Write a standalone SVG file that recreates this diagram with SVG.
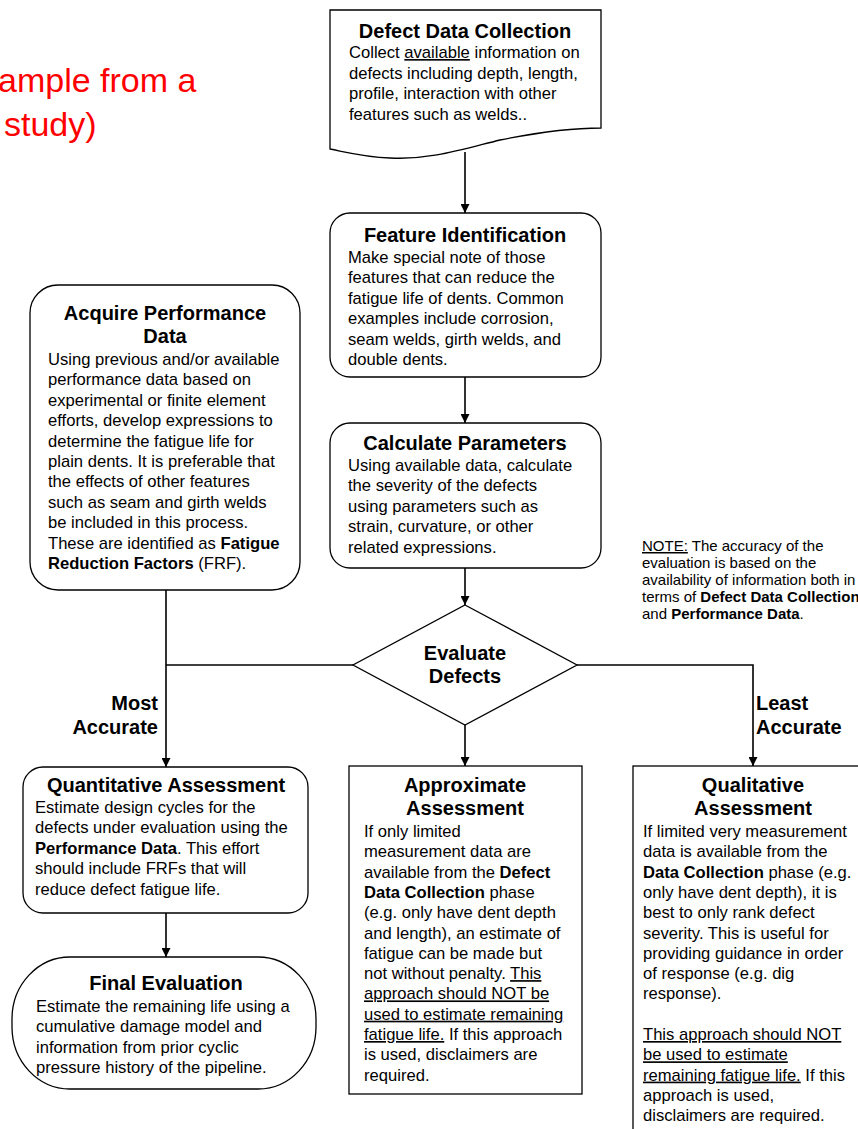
<svg xmlns="http://www.w3.org/2000/svg" width="858" height="1129" viewBox="0 0 858 1129">
<style>
text{font-family:"Liberation Sans",Arial,sans-serif;fill:#000}
.t{font-size:20px;font-weight:bold;text-anchor:middle}
.b{font-size:16.6px}
.n{font-size:15px}
.lbl{font-size:20px;font-weight:bold}
.bd{font-weight:bold}
.u{text-decoration:underline}
.shape{fill:#fff;stroke:#000;stroke-width:1.3}
.conn{fill:none;stroke:#000;stroke-width:1.6}
.red{font-size:34px;fill:#ff0000}
</style>
<defs>
<marker id="ah" viewBox="0 0 10 10" refX="10" refY="5" markerWidth="10" markerHeight="9" markerUnits="userSpaceOnUse" orient="auto"><path d="M0,0 L10,5 L0,10 z" fill="#000"/></marker>
</defs>
<rect width="858" height="1129" fill="#fff"/>
<g id="title-fragment">
<text class="red" x="-2" y="92">ample from a</text>
<text class="red" x="4" y="136">study)</text>
</g>
<g id="connectors">
<path class="conn" d="M465,152 V213" marker-end="url(#ah)"/>
<path class="conn" d="M465,377 V423" marker-end="url(#ah)"/>
<path class="conn" d="M465,568 V605" marker-end="url(#ah)"/>
<path class="conn" d="M465,725 V766" marker-end="url(#ah)"/>
<path class="conn" d="M166,590 V767" marker-end="url(#ah)"/>
<path class="conn" d="M353,665 H166"/>
<path class="conn" d="M577,665 H753 V766" marker-end="url(#ah)"/>
<path class="conn" d="M166,913 V957" marker-end="url(#ah)"/>
</g>
<g id="defect-data-collection">
<path class="shape" d="M330,10 H601 V128 C570,128 540,132 500,140 C460,150 430,160 390,158 C365,157 350,153 330,149 Z"/>
<text class="t" x="465" y="38">Defect Data Collection</text>
<text class="b" x="349" y="58">Collect <tspan class="u">available</tspan> information on</text>
<text class="b" x="349" y="78.5">defects including depth, length,</text>
<text class="b" x="349" y="99">profile, interaction with other</text>
<text class="b" x="349" y="119.5">features such as welds..</text>
</g>
<g id="feature-identification">
<rect class="shape" x="330" y="213" width="271" height="164" rx="20"/>
<text class="t" x="465" y="242">Feature Identification</text>
<text class="b" x="348" y="263">Make special note of those</text>
<text class="b" x="348" y="283.4">features that can reduce the</text>
<text class="b" x="348" y="303.8">fatigue life of dents. Common</text>
<text class="b" x="348" y="324.2">examples include corrosion,</text>
<text class="b" x="348" y="344.6">seam welds, girth welds, and</text>
<text class="b" x="348" y="365">double dents.</text>
</g>
<g id="calculate-parameters">
<rect class="shape" x="330" y="423" width="271" height="145" rx="20"/>
<text class="t" x="465" y="450">Calculate Parameters</text>
<text class="b" x="348" y="471">Using available data, calculate</text>
<text class="b" x="348" y="491.4">the severity of the defects</text>
<text class="b" x="348" y="511.8">using parameters such as</text>
<text class="b" x="348" y="532.2">strain, curvature, or other</text>
<text class="b" x="348" y="552.6">related expressions.</text>
</g>
<g id="acquire-performance-data">
<rect class="shape" x="30" y="285" width="270" height="305" rx="28"/>
<text class="t" x="165" y="320">Acquire Performance</text>
<text class="t" x="165" y="343">Data</text>
<text class="b" x="48" y="365">Using previous and/or available</text>
<text class="b" x="48" y="385.4">performance data based on</text>
<text class="b" x="48" y="405.8">experimental or finite element</text>
<text class="b" x="48" y="426.2">efforts, develop expressions to</text>
<text class="b" x="48" y="446.6">determine the fatigue life for</text>
<text class="b" x="48" y="467">plain dents. It is preferable that</text>
<text class="b" x="48" y="487.4">the effects of other features</text>
<text class="b" x="48" y="507.8">such as seam and girth welds</text>
<text class="b" x="48" y="528.2">be included in this process.</text>
<text class="b" x="48" y="548.6">These are identified as <tspan class="bd">Fatigue</tspan></text>
<text class="b" x="48" y="569"><tspan class="bd">Reduction Factors</tspan> (FRF).</text>
</g>
<g id="note">
<text class="n" x="642" y="551"><tspan class="u">NOTE:</tspan> The accuracy of the</text>
<text class="n" x="642" y="568">evaluation is based on the</text>
<text class="n" x="642" y="585">availability of information both in</text>
<text class="n" x="642" y="602">terms of <tspan class="bd">Defect Data Collection</tspan></text>
<text class="n" x="642" y="619">and <tspan class="bd">Performance Data</tspan>.</text>
</g>
<g id="evaluate-defects">
<polygon class="shape" points="465,605 577,665 465,725 353,665"/>
<text class="t" x="465" y="660">Evaluate</text>
<text class="t" x="465" y="683">Defects</text>
</g>
<g id="labels">
<text class="lbl" x="158" y="710" text-anchor="end">Most</text>
<text class="lbl" x="158" y="734" text-anchor="end">Accurate</text>
<text class="lbl" x="756" y="710">Least</text>
<text class="lbl" x="756" y="734">Accurate</text>
</g>
<g id="quantitative-assessment">
<rect class="shape" x="23" y="767" width="285" height="146" rx="20"/>
<text class="t" x="166" y="792">Quantitative Assessment</text>
<text class="b" x="35" y="813">Estimate design cycles for the</text>
<text class="b" x="35" y="833.4">defects under evaluation using the</text>
<text class="b" x="35" y="853.8"><tspan class="bd">Performance Data</tspan>. This effort</text>
<text class="b" x="35" y="874.2">should include FRFs that will</text>
<text class="b" x="35" y="894.6">reduce defect fatigue life.</text>
</g>
<g id="final-evaluation">
<rect class="shape" x="12" y="957" width="304" height="132" rx="58" ry="62"/>
<text class="t" x="166" y="990">Final Evaluation</text>
<text class="b" x="36" y="1012">Estimate the remaining life using a</text>
<text class="b" x="36" y="1032.4">cumulative damage model and</text>
<text class="b" x="36" y="1052.8">information from prior cyclic</text>
<text class="b" x="36" y="1073.2">pressure history of the pipeline.</text>
</g>
<g id="approximate-assessment">
<rect class="shape" x="349" y="766" width="233" height="328"/>
<text class="t" x="465" y="792">Approximate</text>
<text class="t" x="465" y="815">Assessment</text>
<text class="b" x="364" y="837">If only limited</text>
<text class="b" x="364" y="857.3">measurement data are</text>
<text class="b" x="364" y="877.6">available from the <tspan class="bd">Defect</tspan></text>
<text class="b" x="364" y="897.9"><tspan class="bd">Data Collection</tspan> phase</text>
<text class="b" x="364" y="918.2">(e.g. only have dent depth</text>
<text class="b" x="364" y="938.5">and length), an estimate of</text>
<text class="b" x="364" y="958.8">fatigue can be made but</text>
<text class="b" x="364" y="979.1">not without penalty. <tspan class="u">This</tspan></text>
<text class="b" x="364" y="999.4"><tspan class="u">approach should NOT be</tspan></text>
<text class="b" x="364" y="1019.7"><tspan class="u">used to estimate remaining</tspan></text>
<text class="b" x="364" y="1040"><tspan class="u">fatigue life.</tspan> If this approach</text>
<text class="b" x="364" y="1060.3">is used, disclaimers are</text>
<text class="b" x="364" y="1080.6">required.</text>
</g>
<g id="qualitative-assessment">
<rect class="shape" x="633" y="766" width="240" height="380"/>
<text class="t" x="753" y="792">Qualitative</text>
<text class="t" x="753" y="815">Assessment</text>
<text class="b" x="643" y="837">If limited very measurement</text>
<text class="b" x="643" y="857.3">data is available from the</text>
<text class="b" x="643" y="877.6"><tspan class="bd">Data Collection</tspan> phase (e.g.</text>
<text class="b" x="643" y="897.9">only have dent depth), it is</text>
<text class="b" x="643" y="918.2">best to only rank defect</text>
<text class="b" x="643" y="938.5">severity. This is useful for</text>
<text class="b" x="643" y="958.8">providing guidance in order</text>
<text class="b" x="643" y="979.1">of response (e.g. dig</text>
<text class="b" x="643" y="999.4">response).</text>
<text class="b" x="643" y="1040"><tspan class="u">This approach should NOT</tspan></text>
<text class="b" x="643" y="1060.3"><tspan class="u">be used to estimate</tspan></text>
<text class="b" x="643" y="1080.6"><tspan class="u">remaining fatigue life.</tspan> If this</text>
<text class="b" x="643" y="1100.9">approach is used,</text>
<text class="b" x="643" y="1121.2">disclaimers are required.</text>
</g>
</svg>
